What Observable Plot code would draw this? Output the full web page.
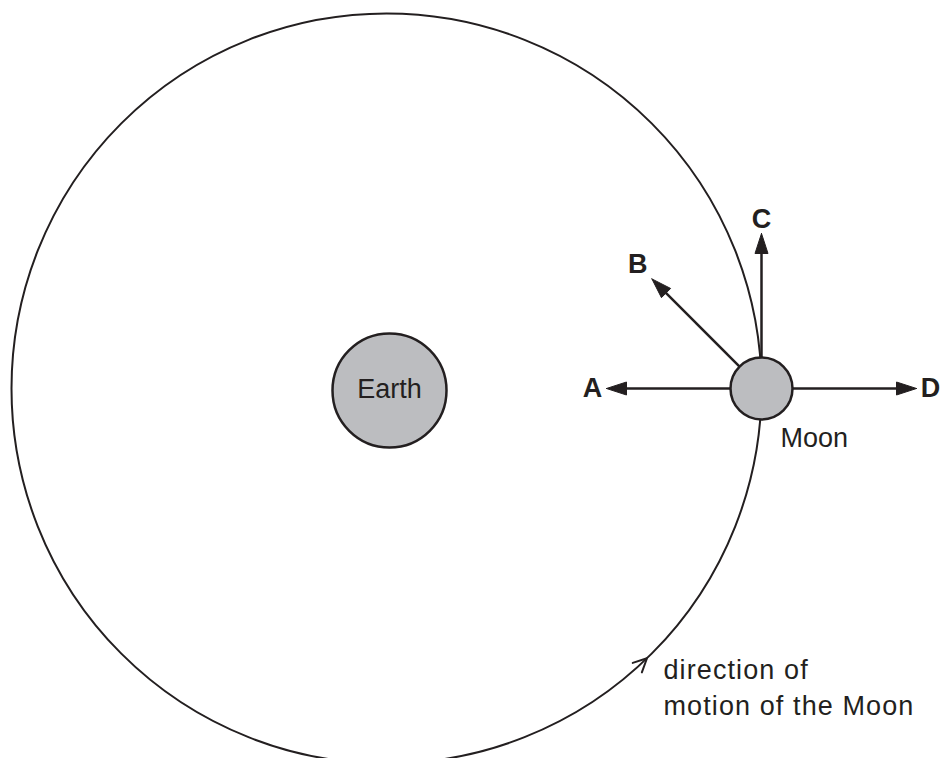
<!DOCTYPE html>
<html>
<head>
<meta charset="utf-8">
<script src="https://cdn.jsdelivr.net/npm/d3@7"></script>
<script src="https://cdn.jsdelivr.net/npm/@observablehq/plot@0.6"></script>
<style>
  html, body { margin: 0; padding: 0; background: #fff; }
  #chart svg { display: block; }
</style>
</head>
<body>
<div id="chart"></div>
<script>
// ---- Data (diagram units, origin = centre of the orbit, y up) ----
const bodyNames = ["Earth", "Moon"];
const bodyX = [3, 375];
const bodyY = [-2, 0];
const bodyR = [57, 31];

const orbitRadius = 375;
const orbitArrowAngle = -46;          // degrees, where the motion arrow sits

const arrowLabels = ["A", "B", "C", "D"];
const arrowAngles = [180, 135, 90, 0]; // degrees, direction of each arrow
const arrowLength = 155;               // from Moon centre to tip
const labelDistances = [169, 175, 169, 169];

const captionLines = ["direction of", "motion of the Moon"];

// ---- Build tables ----
const ink = "#231f20";
const grey = "#bcbdc0";
const rad = d => d * Math.PI / 180;
const moon = {x: bodyX[1], y: bodyY[1], r: bodyR[1]};

const bodies = bodyNames.map((name, i) => ({name, x: bodyX[i], y: bodyY[i], r: bodyR[i]}));

const headLen = 20, headHalf = 6.5;
const shafts = arrowLabels.map((label, i) => {
  const a = rad(arrowAngles[i]);
  return {
    label,
    x1: moon.x + moon.r * Math.cos(a), y1: moon.y + moon.r * Math.sin(a),
    x2: moon.x + (arrowLength - headLen + 2) * Math.cos(a), y2: moon.y + (arrowLength - headLen + 2) * Math.sin(a)
  };
});
const heads = arrowLabels.flatMap((label, i) => {
  const a = rad(arrowAngles[i]);
  const ux = Math.cos(a), uy = Math.sin(a), px = -uy, py = ux;
  const tx = moon.x + arrowLength * ux, ty = moon.y + arrowLength * uy;
  const bx = moon.x + (arrowLength - headLen) * ux, by = moon.y + (arrowLength - headLen) * uy;
  return [
    {label, x: tx, y: ty},
    {label, x: bx + headHalf * px, y: by + headHalf * py},
    {label, x: bx - headHalf * px, y: by - headHalf * py},
    {label, x: tx, y: ty}
  ];
});
const labels = arrowLabels.map((label, i) => {
  const a = rad(arrowAngles[i]);
  return {label, x: moon.x + labelDistances[i] * Math.cos(a), y: moon.y + labelDistances[i] * Math.sin(a)};
});

// open chevron on the orbit showing the direction of motion (anticlockwise)
const th = rad(orbitArrowAngle);
const tipX = orbitRadius * Math.cos(th), tipY = orbitRadius * Math.sin(th);
const backAng = Math.atan2(-Math.cos(th), Math.sin(th)); // opposite of travel direction
const armLen = 15, armSpread = rad(26);
const chevron = [
  {x: tipX + armLen * Math.cos(backAng + armSpread), y: tipY + armLen * Math.sin(backAng + armSpread)},
  {x: tipX, y: tipY},
  {x: tipX + armLen * Math.cos(backAng - armSpread), y: tipY + armLen * Math.sin(backAng - armSpread)}
];

const caption = captionLines.map((text, i) => ({text, x: 277, y: -282 - 36 * i}));

const font = "'Liberation Sans', Arial, Helvetica, sans-serif";

const chart = Plot.plot({
  width: 942,
  height: 758,
  margin: 0,
  x: {domain: [-386, 556], axis: null},
  y: {domain: [-370, 388], axis: null},
  r: {type: "identity"},
  style: {fontFamily: font, background: "#fff"},
  marks: [
    // orbit
    Plot.dot([{x: 0, y: 0, r: orbitRadius}], {x: "x", y: "y", r: "r", stroke: ink, strokeWidth: 2, fill: "none"}),
    Plot.line(chevron, {x: "x", y: "y", stroke: ink, strokeWidth: 2, strokeLinejoin: "miter"}),
    // force arrows
    Plot.link(shafts, {x1: "x1", y1: "y1", x2: "x2", y2: "y2", stroke: ink, strokeWidth: 2.5}),
    Plot.line(heads, {x: "x", y: "y", z: "label", fill: ink, stroke: ink, strokeWidth: 1, strokeLinejoin: "miter"}),
    // bodies
    Plot.dot(bodies, {x: "x", y: "y", r: "r", fill: grey, stroke: ink, strokeWidth: 2.5}),
    // texts
    Plot.text([bodies[0]], {x: "x", y: d => d.y + 1, text: "name", fontSize: 27, fill: ink}),
    Plot.text([bodies[1]], {x: d => d.x + 19, y: d => d.y - 50, text: "name", fontSize: 27, fill: ink, textAnchor: "start"}),
    Plot.text(labels, {x: "x", y: "y", text: "label", fontSize: 27, fontWeight: "bold", fill: ink}),
    Plot.text(caption, {x: "x", y: "y", text: "text", fontSize: 27, fill: ink, textAnchor: "start"})
  ]
});

document.getElementById("chart").append(chart);
// the printed caption is set with slightly wider tracking
const textGroups = chart.querySelectorAll('g[aria-label="text"]');
if (textGroups.length) textGroups[textGroups.length - 1].style.letterSpacing = "1.1px";
</script>
</body>
</html>
